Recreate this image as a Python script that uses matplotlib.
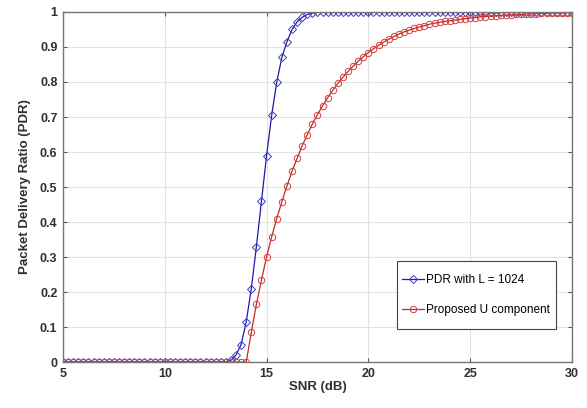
import matplotlib
matplotlib.use("Agg")
import matplotlib.pyplot as plt
from matplotlib.legend_handler import HandlerLine2D
import numpy as np

plt.rcParams['font.family'] = ['Liberation Sans', 'DejaVu Sans']

# SNR grid, 0.25 dB steps from 5 to 30
snr = np.arange(101) * 0.25 + 5

pdr_blue = ([0.0] * 33 +   # 5.0 .. 13.0
            [0.005, 0.02, 0.05, 0.115, 0.21, 0.33, 0.46, 0.59, 0.705, 0.80,
             0.87, 0.915, 0.95, 0.972, 0.985, 0.993, 0.997, 0.999] +
            [1.0] * 50)

pdr_red = ([0.0] * 37 +    # 5.0 .. 14.0
           [0.085, 0.165, 0.235, 0.30, 0.358, 0.41, 0.458, 0.503, 0.545, 0.582,
            0.618, 0.65, 0.68, 0.707, 0.732, 0.755, 0.776, 0.796, 0.814, 0.83,
            0.845, 0.859, 0.872, 0.884, 0.895, 0.905, 0.914, 0.922, 0.93, 0.937,
            0.943, 0.948, 0.953, 0.957, 0.961, 0.965, 0.968, 0.971, 0.973, 0.975,
            0.977, 0.979, 0.981, 0.983, 0.984, 0.986, 0.987, 0.988, 0.989, 0.990,
            0.991, 0.992, 0.993, 0.993, 0.994, 0.995, 0.995, 0.996, 0.996, 0.997,
            0.997, 0.997, 0.998, 0.998])


# keep the legend line level with the text when rows are made taller
class MidLine(HandlerLine2D):
    def create_artists(self, legend, orig_handle, xdescent, ydescent,
                       width, height, fontsize, trans):
        arts = super().create_artists(legend, orig_handle, xdescent, ydescent,
                                      width, height, fontsize, trans)
        for a in arts:
            a.set_ydata(np.full_like(a.get_xdata(), 0.33 * fontsize))
        return arts


fig = plt.figure(figsize=(5.87, 4.08), dpi=100)
ax = fig.add_axes([0.1073, 0.1127, 0.8671, 0.8579])

l1, = ax.plot(snr, pdr_blue, '-', color='#1c1ca8', lw=0.9, marker='D', ms=3.6,
              mfc='none', mec='#3b3bc8', mew=0.7, label='PDR with L = 1024')
l2, = ax.plot(snr, pdr_red, '-', color='#c42828', lw=0.9, marker='o', ms=4.6,
              mfc='none', mec='#d04040', mew=0.7, label='Proposed U component')

ax.set_xlim(5, 30)
ax.set_ylim(0, 1)
ax.set_xticks([5, 10, 15, 20, 25, 30])
ax.set_yticks(np.arange(0, 1.01, 0.1))
ax.set_yticklabels(['0', '0.1', '0.2', '0.3', '0.4', '0.5', '0.6', '0.7', '0.8', '0.9', '1'])
for lab in ax.get_xticklabels() + ax.get_yticklabels():
    lab.set_fontweight('bold')
    lab.set_color('#303030')
ax.tick_params(direction='in', top=True, right=True, labelsize=9, length=3,
               color='#555555', pad=4)
ax.grid(True, color='#e2e2e2', lw=0.8)
ax.set_axisbelow(True)
for s in ax.spines.values():
    s.set_color('#777777')
    s.set_linewidth(1.0)

ax.set_xlabel('SNR (dB)', fontsize=9.5, fontweight='bold', color='#303030',
              labelpad=1)
ax.set_ylabel('Packet Delivery Ratio (PDR)', fontsize=9.5, fontweight='bold',
              color='#303030', labelpad=6)

leg = ax.legend(loc='lower left', bbox_to_anchor=(0.656, 0.095, 0.312, 0.198),
                mode='expand', borderaxespad=0, fontsize=8.5, handlelength=1.9,
                handleheight=3.3, labelspacing=0.15, borderpad=0.4,
                handletextpad=0.2, fancybox=False, framealpha=1,
                handler_map={l1: MidLine(), l2: MidLine()})
leg.get_frame().set_edgecolor('#444444')
leg.get_frame().set_linewidth(0.8)

fig.savefig('out.png', dpi=100)
